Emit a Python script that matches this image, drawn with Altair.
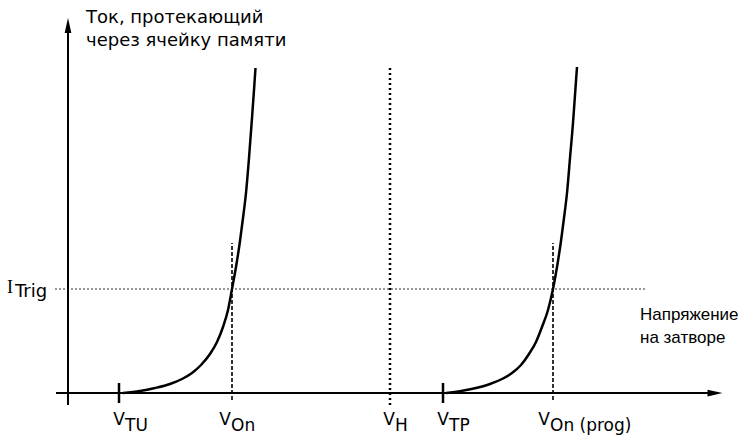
import altair as alt
import pandas as pd

# ---------------- data (abstract units: x = gate voltage, y = cell current) ----------------
V_TU, V_ON, V_H, V_TP, V_ON_PROG = 51, 164, 322, 375, 485
I_TRIG = 104

erased_v = [55, 72, 87, 102, 114, 124, 133, 142, 149, 155, 160, 164, 168, 172, 175, 178, 181, 184, 186, 187.5]
erased_i = [0, 2, 5, 9, 14, 20, 28, 39, 51, 66, 83, 104, 126, 152, 175, 200, 235, 275, 303, 325]
prog_v = [378, 393, 408, 422, 434, 444, 453, 461, 468, 474, 480, 485, 489, 493, 496, 499, 502, 505, 507, 509]
prog_i = [0, 2, 5, 9, 14, 20, 28, 39, 51, 66, 83, 104, 126, 152, 175, 200, 235, 270, 298, 326]

label_sub = ["TU", "On", "H", "TP", "On (prog)"]
label_at = [V_TU, V_ON, V_H, V_TP, V_ON_PROG]

y_title = ["Ток, протекающий", "через ячейку памяти"]
x_title = ["Напряжение", "на затворе"]
i_label = ("I", "Trig")

# ---------------- layout / style ----------------
X_DOMAIN = [-68, 672]
Y_DOMAIN = [-45, 393]
X_AX = (-12, 654)      # extent of the gate-voltage axis
Y_AX = (-12, 375)      # extent of the current axis
V_OFFSET = [0, -7, -1, 0, -9]   # shift of the "V" glyph from its landmark
FONT = "DejaVu Sans"

xs = alt.Scale(domain=X_DOMAIN, nice=False, zero=False)
ys = alt.Scale(domain=Y_DOMAIN, nice=False, zero=False)


def X(f="x"):
    return alt.X(f"{f}:Q", scale=xs, axis=None)


def Y(f="y"):
    return alt.Y(f"{f}:Q", scale=ys, axis=None)


# axes lines
axes_df = pd.DataFrame({
    "x": [0, X_AX[0]], "x2": [0, X_AX[1] - 6],
    "y": [Y_AX[0], 0], "y2": [Y_AX[1] - 6, 0],
})
axes = alt.Chart(axes_df).mark_rule(strokeWidth=2, color="black").encode(
    x=X(), x2="x2:Q", y=Y(), y2="y2:Q")

# ticks at threshold voltages
ticks_df = pd.DataFrame({"x": [V_TU, V_TP], "y": [-10, -10], "y2": [10, 10]})
ticks = alt.Chart(ticks_df).mark_rule(strokeWidth=2.5, color="black").encode(
    x=X(), y=Y(), y2="y2:Q")

# V_on dashed verticals
von_df = pd.DataFrame({"x": [V_ON, V_ON_PROG], "y": [-7, -7], "y2": [150, 150]})
von = alt.Chart(von_df).mark_rule(strokeWidth=1.6, strokeDash=[4, 2], color="black").encode(
    x=X(), y=Y(), y2="y2:Q")

# V_H dotted vertical
vh_df = pd.DataFrame({"x": [V_H], "y": [-12], "y2": [326]})
vh = alt.Chart(vh_df).mark_rule(strokeWidth=2.5, strokeDash=[2, 3], color="black").encode(
    x=X(), y=Y(), y2="y2:Q")

# I_trig dotted horizontal
it_df = pd.DataFrame({"x": [-13], "x2": [577], "y": [I_TRIG]})
itrig = alt.Chart(it_df).mark_rule(strokeWidth=1.2, strokeDash=[2, 2], color="#333333").encode(
    x=X(), x2="x2:Q", y=Y())

# I-V curves
curves_df = pd.concat([
    pd.DataFrame({"x": erased_v, "y": erased_i, "c": "erased", "o": range(len(erased_v))}),
    pd.DataFrame({"x": prog_v, "y": prog_i, "c": "prog", "o": range(len(prog_v))}),
])
curves = alt.Chart(curves_df).mark_line(strokeWidth=2.5, color="black",
                                        interpolate="monotone").encode(
    x=X(), y=Y(), detail="c:N", order="o:Q")

# arrow heads
up_df = pd.DataFrame({"x": [0], "y": [Y_AX[1] - 7.5]})
up = alt.Chart(up_df).mark_point(shape="M0,-1L0.45,1L-0.45,1Z", size=225, filled=True,
                                 color="black", opacity=1).encode(x=X(), y=Y())
right_df = pd.DataFrame({"x": [X_AX[1] - 7], "y": [0]})
right = alt.Chart(right_df).mark_point(shape="M1,0L-1,-0.45L-1,0.45Z", size=225, filled=True,
                                       color="black", opacity=1).encode(x=X(), y=Y())

# texts
yt_df = pd.DataFrame({"x": [18, 18], "y": [370, 347], "t": y_title})
ytitle = alt.Chart(yt_df).mark_text(align="left", baseline="alphabetic", font=FONT,
                                    fontSize=18, color="black").encode(x=X(), y=Y(), text="t:N")

xt_df = pd.DataFrame({"x": [572, 572], "y": [73, 50], "t": x_title})
xtitle = alt.Chart(xt_df).mark_text(align="left", baseline="alphabetic", font="Liberation Sans",
                                    fontSize=17, color="black").encode(x=X(), y=Y(), text="t:N")

vmain_df = pd.DataFrame({"x": [a + o for a, o in zip(label_at, V_OFFSET)], "y": [-32] * 5,
                         "t": ["V"] * 5})
vmain = alt.Chart(vmain_df).mark_text(align="center", baseline="alphabetic", font=FONT,
                                      fontSize=17, color="black").encode(x=X(), y=Y(), text="t:N")
vsub_df = pd.DataFrame({"x": [a + o + 6 for a, o in zip(label_at, V_OFFSET)], "y": [-38] * 5,
                        "t": label_sub})
vsub = alt.Chart(vsub_df).mark_text(align="left", baseline="alphabetic", font=FONT,
                                    fontSize=17, color="black").encode(x=X(), y=Y(), text="t:N")

imain = alt.Chart(pd.DataFrame({"x": [-58], "y": [100], "t": [i_label[0]]})).mark_text(
    align="center", baseline="alphabetic", font="Liberation Serif", fontSize=18,
    color="black").encode(x=X(), y=Y(), text="t:N")
isub = alt.Chart(pd.DataFrame({"x": [-53], "y": [96], "t": [i_label[1]]})).mark_text(
    align="left", baseline="alphabetic", font=FONT, fontSize=18,
    color="black").encode(x=X(), y=Y(), text="t:N")

chart = alt.layer(
    itrig, von, vh, axes, ticks, curves, up, right,
    ytitle, xtitle, vmain, vsub, imain, isub,
).properties(
    width=740, height=438, autosize=alt.AutoSizeParams(type="none"), padding=0,
    background="white",
).configure_view(stroke=None)

chart.save("out.html", embed_options={"renderer": "svg", "actions": False})
